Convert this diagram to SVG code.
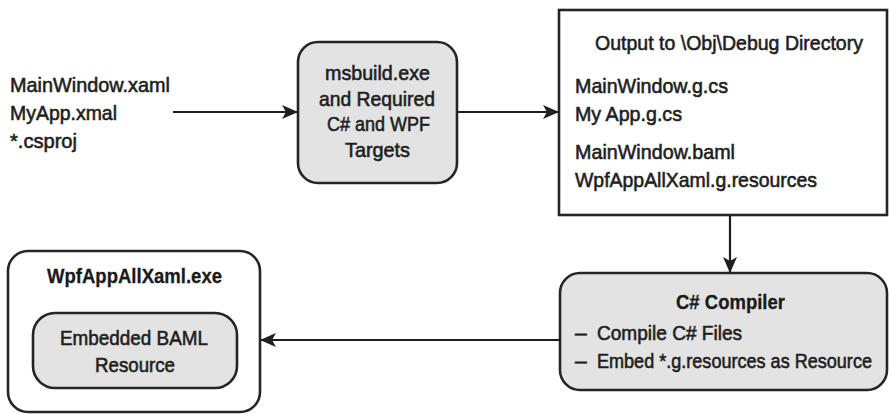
<svg xmlns="http://www.w3.org/2000/svg" width="889" height="414" viewBox="0 0 889 414">
<defs>
<style>
.t{font-family:"Liberation Sans",Arial,sans-serif;font-size:21px;fill:#1e1e1e;stroke:#1e1e1e;stroke-width:0.6px}
.b{font-family:"Liberation Sans",Arial,sans-serif;font-size:21px;font-weight:bold;fill:#1a1a1a;stroke:#1a1a1a;stroke-width:0.3px}
.box{stroke:#252525;stroke-width:2.6}
.gray{fill:#e3e3e3}
.white{fill:#ffffff}
.conn{stroke:#1e1e1e;stroke-width:2.2;fill:none;marker-end:url(#ah)}
</style>
<marker id="ah" markerUnits="userSpaceOnUse" markerWidth="18" markerHeight="18" refX="16" refY="9" orient="auto">
<path d="M1,2 L17,9 L1,16 L5,9 Z" fill="#1e1e1e"/>
</marker>
</defs>
<rect width="889" height="414" fill="#ffffff"/>

<g id="inputs">
<text class="t" x="10" y="92" textLength="160" lengthAdjust="spacingAndGlyphs">MainWindow.xaml</text>
<text class="t" x="10" y="120" textLength="107" lengthAdjust="spacingAndGlyphs">MyApp.xmal</text>
<text class="t" x="10" y="148" textLength="67" lengthAdjust="spacingAndGlyphs">*.csproj</text>
</g>

<g id="msbuild">
<rect class="box gray" x="298" y="42" width="159" height="141" rx="20"/>
<text class="t" x="325" y="80" textLength="105" lengthAdjust="spacingAndGlyphs">msbuild.exe</text>
<text class="t" x="319" y="106" textLength="116" lengthAdjust="spacingAndGlyphs">and Required</text>
<text class="t" x="327" y="131" textLength="103" lengthAdjust="spacingAndGlyphs">C# and WPF</text>
<text class="t" x="345" y="157" textLength="65" lengthAdjust="spacingAndGlyphs">Targets</text>
</g>

<g id="output">
<rect class="box white" x="559" y="10" width="328" height="205" stroke-width="3"/>
<text class="t" x="595" y="50" textLength="268" lengthAdjust="spacingAndGlyphs">Output to \Obj\Debug Directory</text>
<text class="t" x="575" y="93" textLength="153" lengthAdjust="spacingAndGlyphs">MainWindow.g.cs</text>
<text class="t" x="575" y="121" textLength="107" lengthAdjust="spacingAndGlyphs">My App.g.cs</text>
<text class="t" x="575" y="159" textLength="160" lengthAdjust="spacingAndGlyphs">MainWindow.baml</text>
<text class="t" x="575" y="187" textLength="242" lengthAdjust="spacingAndGlyphs">WpfAppAllXaml.g.resources</text>
</g>

<g id="compiler">
<rect class="box gray" x="560" y="273" width="327" height="117" rx="20"/>
<text class="b" x="676" y="309" textLength="109" lengthAdjust="spacingAndGlyphs">C# Compiler</text>
<text class="t" x="575" y="340">–</text>
<text class="t" x="597" y="340" textLength="145" lengthAdjust="spacingAndGlyphs">Compile C# Files</text>
<text class="t" x="575" y="368">–</text>
<text class="t" transform="translate(597 368) scale(0.86 1)" x="0" y="0">Embed *.g.resources as Resource</text>
</g>

<g id="exe">
<rect class="box white" x="8" y="251" width="252" height="161" rx="20"/>
<text class="b" x="47" y="283" textLength="175" lengthAdjust="spacingAndGlyphs">WpfAppAllXaml.exe</text>
<g id="baml">
<rect class="box gray" x="33" y="313" width="204" height="75" rx="22"/>
<text class="t" x="60" y="345" textLength="148" lengthAdjust="spacingAndGlyphs">Embedded BAML</text>
<text class="t" x="95" y="372" textLength="80" lengthAdjust="spacingAndGlyphs">Resource</text>
</g>
</g>

<g id="connectors">
<line class="conn" x1="173" y1="112" x2="297" y2="112"/>
<line class="conn" x1="457" y1="112" x2="558" y2="112"/>
<line class="conn" x1="730" y1="215" x2="730" y2="272"/>
<line class="conn" x1="560" y1="340" x2="261" y2="340"/>
</g>
</svg>
